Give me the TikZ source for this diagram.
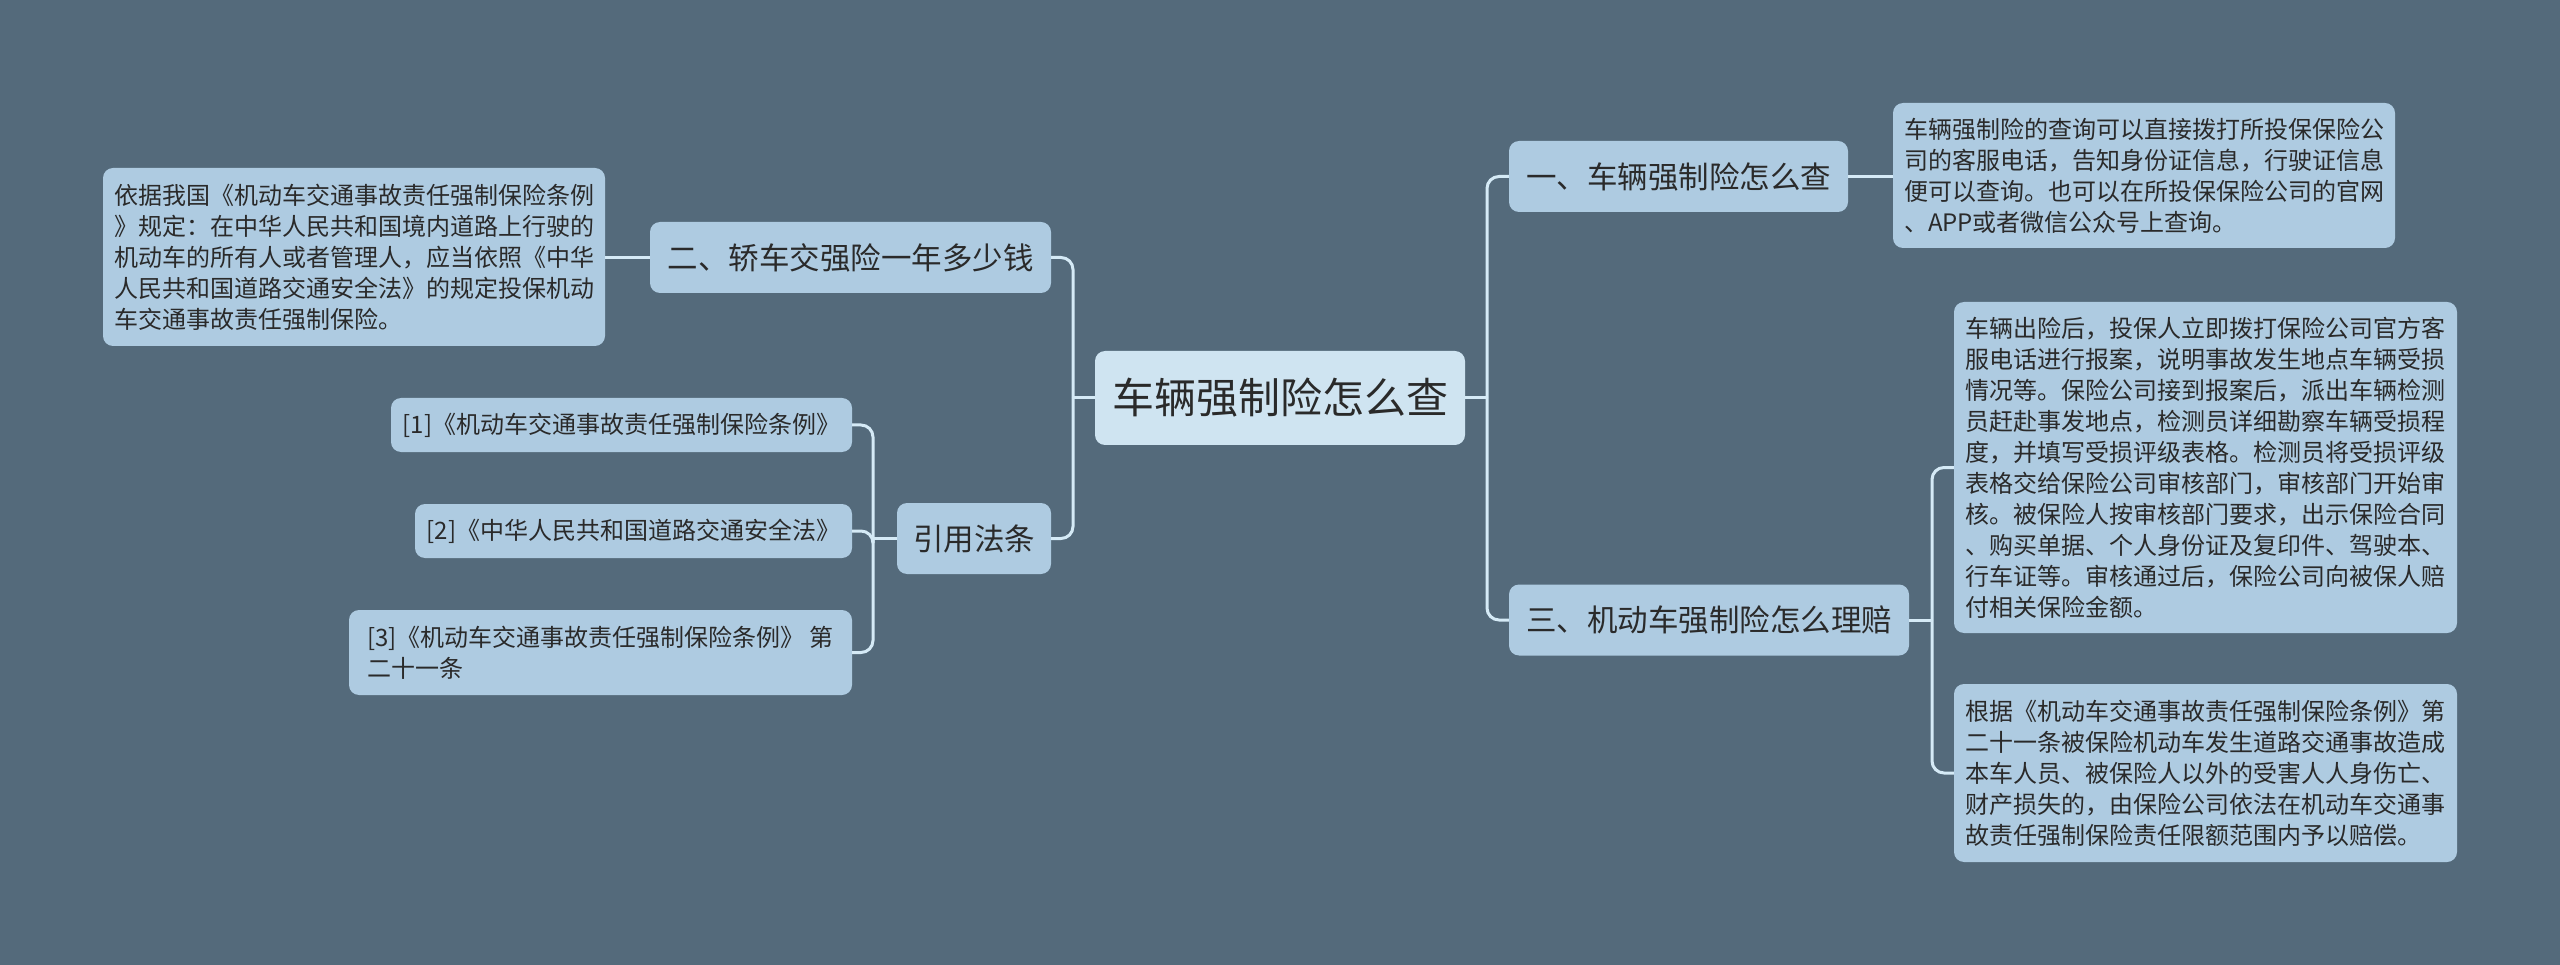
\documentclass[tikz,border=0pt]{standalone}
\usepackage{fontspec}
\setmainfont{Noto Sans CJK SC}
\definecolor{bg}{HTML}{546A7B}
\definecolor{nodefill}{HTML}{AECBE1}
\definecolor{rootfill}{HTML}{CFE4F1}
\definecolor{linec}{HTML}{D5EAF6}
\definecolor{txt}{HTML}{2A2A2A}
\begin{document}
\begin{tikzpicture}[x=1pt,y=-1pt,
  base/.style={rounded corners=10pt, fill=nodefill, text=txt, inner sep=0pt, align=center},
  root/.style={base, fill=rootfill, font=\fontsize{42}{50}\selectfont},
  topic/.style={base, font=\fontsize{30.5}{38}\selectfont},
  leaf/.style={base, align=left, font=\fontsize{24}{31}\selectfont},
  conn/.style={draw=linec, line width=3pt, rounded corners=12pt}]
\fill[bg] (0,0) rectangle (2560,965);
\useasboundingbox (0,0) rectangle (2560,965);

% nodes
\node[root, minimum width=370pt, minimum height=94pt] (root) at (1280,398) {车辆强制险怎么查};
\node[topic, minimum width=339pt, minimum height=71pt] (n1) at (1678.5,176.5) {一、车辆强制险怎么查};
\node[topic, minimum width=400pt, minimum height=71pt] (n3) at (1709,620) {三、机动车强制险怎么理赔};
\node[topic, minimum width=401pt, minimum height=71pt] (n2) at (850.5,257.5) {二、轿车交强险一年多少钱};
\node[topic, minimum width=154pt, minimum height=71pt] (nref) at (974,538.5) {引用法条};

\node[leaf, minimum width=502pt, minimum height=145pt] (d1) at (2144,175.5) {车辆强制险的查询可以直接拨打所投保保险公\\司的客服电话，告知身份证信息，行驶证信息\\便可以查询。也可以在所投保保险公司的官网\\、APP或者微信公众号上查询。};
\node[leaf, minimum width=503pt, minimum height=331pt] (d3a) at (2205.5,467.5) {车辆出险后，投保人立即拨打保险公司官方客\\服电话进行报案，说明事故发生地点车辆受损\\情况等。保险公司接到报案后，派出车辆检测\\员赶赴事发地点，检测员详细勘察车辆受损程\\度，并填写受损评级表格。检测员将受损评级\\表格交给保险公司审核部门，审核部门开始审\\核。被保险人按审核部门要求，出示保险合同\\、购买单据、个人身份证及复印件、驾驶本、\\行车证等。审核通过后，保险公司向被保人赔\\付相关保险金额。};
\node[leaf, minimum width=503pt, minimum height=178pt] (d3b) at (2205.5,773) {根据《机动车交通事故责任强制保险条例》第\\二十一条被保险机动车发生道路交通事故造成\\本车人员、被保险人以外的受害人人身伤亡、\\财产损失的，由保险公司依法在机动车交通事\\故责任强制保险责任限额范围内予以赔偿。};
\node[leaf, minimum width=502pt, minimum height=178pt] (d2) at (354,257) {依据我国《机动车交通事故责任强制保险条例\\》规定：在中华人民共和国境内道路上行驶的\\机动车的所有人或者管理人，应当依照《中华\\人民共和国道路交通安全法》的规定投保机动\\车交通事故责任强制保险。};
\node[leaf, minimum width=461pt, minimum height=54pt] (r1) at (621.5,425) {[1]《机动车交通事故责任强制保险条例》};
\node[leaf, minimum width=437pt, minimum height=54pt] (r2) at (633.5,531) {[2]《中华人民共和国道路交通安全法》};
\node[leaf, minimum width=503pt, minimum height=85pt] (r3) at (600.5,652.5) {[3]《机动车交通事故责任强制保险条例》 第\\二十一条};

% connectors right
\coordinate (rt) at (1487,398);
\draw[conn] (root.east) -- (rt);
\draw[conn] (rt) |- (n1.west);
\draw[conn] (rt) |- (n3.west);
\draw[conn] (n1.east) -- (n1.east -| d1.west);
\coordinate (t3) at (1932,620);
\draw[conn] (n3.east) -- (t3);
\draw[conn] (t3) |- (d3a.west);
\draw[conn] (t3) |- (d3b.west);

% connectors left
\coordinate (lt) at (1073,398);
\draw[conn] (root.west) -- (lt);
\draw[conn] (lt) |- (n2.east);
\draw[conn] (lt) |- (nref.east);
\draw[conn] (n2.west) -- (n2.west -| d2.east);
\coordinate (rt2) at (873,538.5);
\draw[conn] (nref.west) -- (rt2);
\draw[conn] (rt2) |- (r1.east);
\draw[conn] (rt2) |- (r2.east);
\draw[conn] (rt2) |- (r3.east);
\end{tikzpicture}
\end{document}
